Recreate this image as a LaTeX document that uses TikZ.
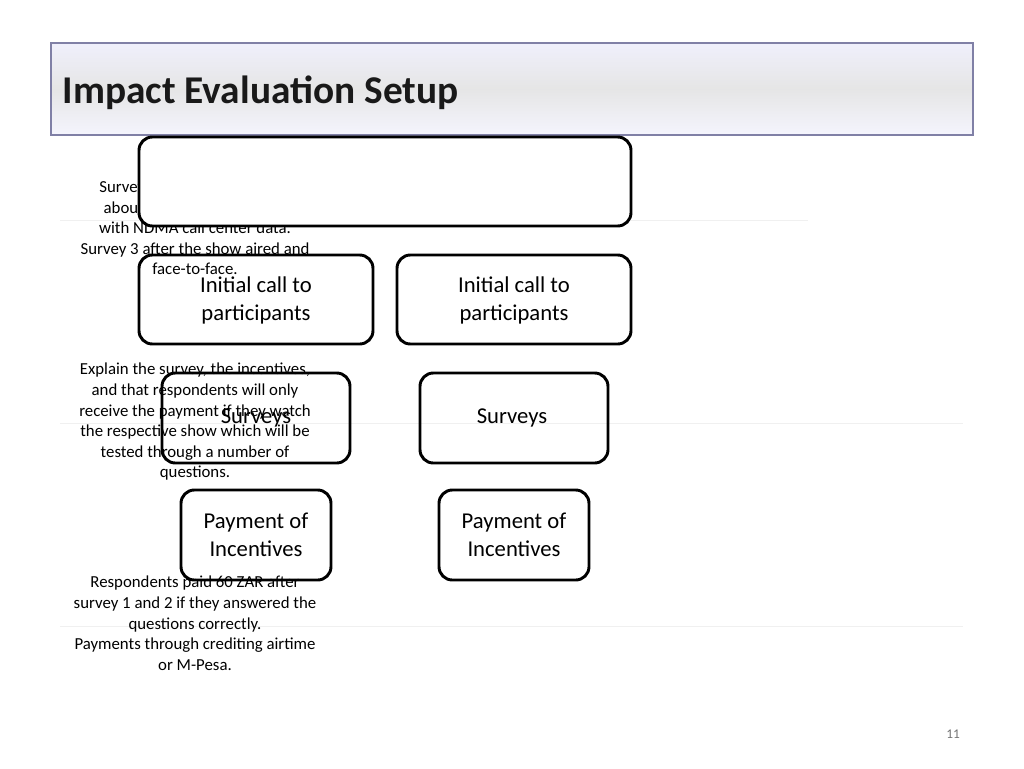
\documentclass[tikz,border=0pt]{standalone}
\usepackage{fontspec}
\setmainfont{Carlito}
\begin{document}
\begin{tikzpicture}[x=0.75pt,y=-0.75pt,
  box/.style={draw=black,line width=2.2pt,rounded corners=10pt},
  note/.style={align=center,font=\fontsize{12.6}{15.4}\selectfont,anchor=north,inner sep=0pt},
  lbl/.style={align=center,font=\fontsize{17}{21}\selectfont},
  faint/.style={draw=black!6,line width=0.6pt}]
\useasboundingbox (0,0) rectangle (1024,768);
\fill[white] (0,0) rectangle (1024,768);
% title bar
\shade[top color=black!22!blue!6,bottom color=black!14!blue!4,middle color=black!10] (51,43) rectangle (973,135);
\draw[draw=blue!30!black!50,line width=1.2pt] (51,43) rectangle (973,135);
\node[anchor=west,font=\fontsize{29.5}{34}\selectfont\bfseries,text=black!90] (title) at (58,93) {Impact Evaluation Setup};
% faint lines
\draw[faint] (60,220) -- (808,220);
\draw[faint] (60,423) -- (963,423);
\draw[faint] (60,626) -- (963,626);
% note 1
\node[note] (n1) at (195,160) {3 surveys total.\\Survey 2 to ask respondents\\about NDMA and compare\\with NDMA call center data.\\Survey 3 after the show aired and\\face-to-face.};
% top box covering it
\draw[box,fill=white] (139,137) rectangle (631,226);
\node (topbox) at (385,181) {};
% row 2
\draw[box] (139,255) rectangle (373,344);
\node[lbl] (ic1) at (256,300) {Initial call to\\participants};
\draw[box] (397,255) rectangle (631,344);
\node[lbl] (ic2) at (514,300) {Initial call to\\participants};
% row 3
\draw[box] (162,373) rectangle (350,463);
\node[lbl] (s1) at (256,418) {Surveys};
\draw[box] (420,373) rectangle (608,463);
\node[lbl] (s2) at (512,418) {Surveys};
\node[note] (n2) at (195,363) {Explain the survey, the incentives,\\and that respondents will only\\receive the payment if they watch\\the respective show which will be\\tested through a number of\\questions.};
% row 4
\draw[box] (181,490) rectangle (331,580);
\node[lbl] (p1) at (256,535) {Payment of\\Incentives};
\draw[box] (439,490) rectangle (589,580);
\node[lbl] (p2) at (514,535) {Payment of\\Incentives};
\node[note] (n3) at (195,576) {Respondents paid 60 ZAR after\\survey 1 and 2 if they  answered the\\questions correctly.\\Payments through crediting airtime\\or M-Pesa.};
\node[text=black!55,font=\fontsize{10}{12}\selectfont] (pg) at (953,734) {11};
\end{tikzpicture}
\end{document}
